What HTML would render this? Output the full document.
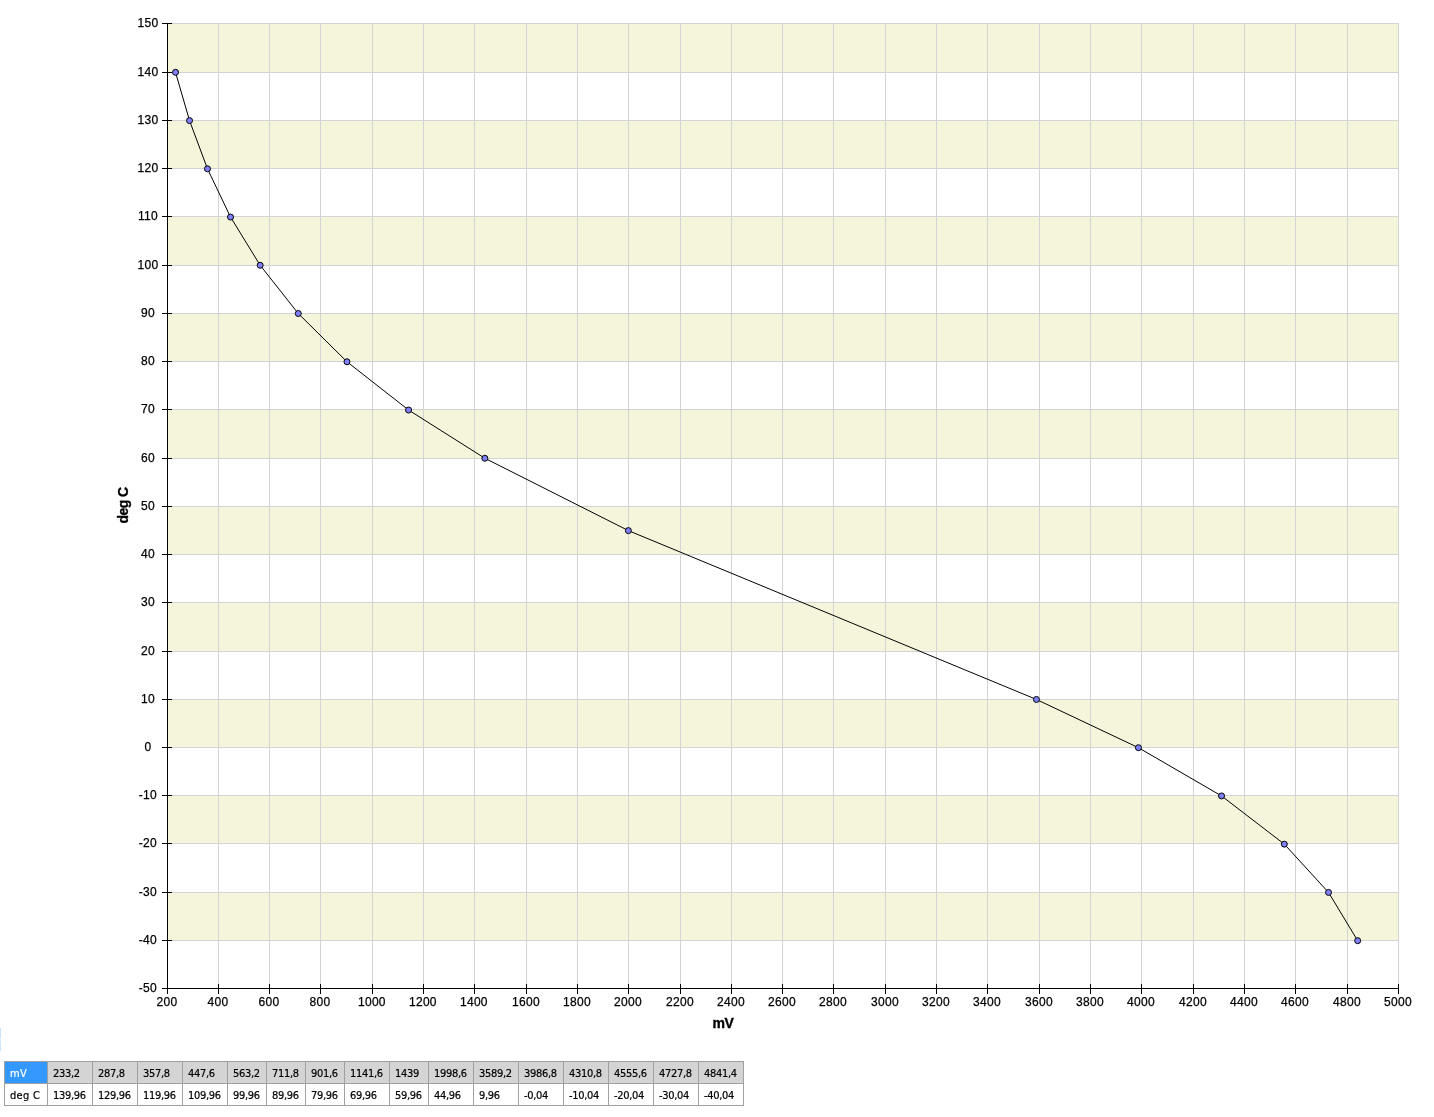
<!DOCTYPE html>
<html lang="en"><head><meta charset="utf-8"><title>mV / deg C</title>
<style>
html,body{margin:0;padding:0;background:#fff;}
body{width:1434px;height:1117px;position:relative;overflow:hidden;font-family:"Liberation Sans","DejaVu Sans",sans-serif;}
#chart{position:absolute;left:0;top:0;}
#chart text{font-family:"Liberation Sans","DejaVu Sans",sans-serif;fill:#000;}
.tk{font-size:12px;letter-spacing:0.3px;stroke:#000;stroke-width:0.25px;}
.ttl{font-size:14px;font-weight:bold;letter-spacing:-0.6px;stroke:#000;stroke-width:0.35px;}
#strip{position:absolute;left:0;top:1028px;width:1px;height:23px;background:linear-gradient(#cce4ff 0,#cce4ff 42%,#f4f0ff 50%,#cceaff 60%,#cce4ff 100%);}
#grid{position:absolute;left:4px;top:1061px;border-collapse:collapse;table-layout:fixed;font-family:"DejaVu Sans Condensed","DejaVu Sans","Liberation Sans",sans-serif;font-size:11px;letter-spacing:-0.3px;color:#000;-webkit-text-stroke:0.2px currentColor;}
#grid td{border:1px solid #a0a0a0;height:21px;padding:2px 0 0 5px;box-sizing:border-box;white-space:nowrap;overflow:hidden;line-height:19px;vertical-align:middle;}
#grid tr.h td{background:#d4d4d4;}
#grid td.l{letter-spacing:0.3px;}
#grid tr.h td.sel{background:#3399ff;color:#fff;}
</style></head><body>
<svg id="chart" width="1434" height="1117" viewBox="0 0 1434 1117">
<g shape-rendering="crispEdges">
<rect x="168" y="892" width="1231" height="48" fill="#f5f5dc"/>
<rect x="168" y="795" width="1231" height="48" fill="#f5f5dc"/>
<rect x="168" y="699" width="1231" height="48" fill="#f5f5dc"/>
<rect x="168" y="602" width="1231" height="49" fill="#f5f5dc"/>
<rect x="168" y="506" width="1231" height="48" fill="#f5f5dc"/>
<rect x="168" y="409" width="1231" height="49" fill="#f5f5dc"/>
<rect x="168" y="313" width="1231" height="48" fill="#f5f5dc"/>
<rect x="168" y="216" width="1231" height="49" fill="#f5f5dc"/>
<rect x="168" y="120" width="1231" height="48" fill="#f5f5dc"/>
<rect x="168" y="23" width="1231" height="49" fill="#f5f5dc"/>
<rect x="218" y="23" width="1" height="965" fill="#d3d3d3"/>
<rect x="269" y="23" width="1" height="965" fill="#d3d3d3"/>
<rect x="320" y="23" width="1" height="965" fill="#d3d3d3"/>
<rect x="372" y="23" width="1" height="965" fill="#d3d3d3"/>
<rect x="423" y="23" width="1" height="965" fill="#d3d3d3"/>
<rect x="474" y="23" width="1" height="965" fill="#d3d3d3"/>
<rect x="526" y="23" width="1" height="965" fill="#d3d3d3"/>
<rect x="577" y="23" width="1" height="965" fill="#d3d3d3"/>
<rect x="628" y="23" width="1" height="965" fill="#d3d3d3"/>
<rect x="680" y="23" width="1" height="965" fill="#d3d3d3"/>
<rect x="731" y="23" width="1" height="965" fill="#d3d3d3"/>
<rect x="782" y="23" width="1" height="965" fill="#d3d3d3"/>
<rect x="833" y="23" width="1" height="965" fill="#d3d3d3"/>
<rect x="885" y="23" width="1" height="965" fill="#d3d3d3"/>
<rect x="936" y="23" width="1" height="965" fill="#d3d3d3"/>
<rect x="987" y="23" width="1" height="965" fill="#d3d3d3"/>
<rect x="1039" y="23" width="1" height="965" fill="#d3d3d3"/>
<rect x="1090" y="23" width="1" height="965" fill="#d3d3d3"/>
<rect x="1141" y="23" width="1" height="965" fill="#d3d3d3"/>
<rect x="1193" y="23" width="1" height="965" fill="#d3d3d3"/>
<rect x="1244" y="23" width="1" height="965" fill="#d3d3d3"/>
<rect x="1295" y="23" width="1" height="965" fill="#d3d3d3"/>
<rect x="1347" y="23" width="1" height="965" fill="#d3d3d3"/>
<rect x="1398" y="23" width="1" height="965" fill="#d3d3d3"/>
<rect x="168" y="940" width="1231" height="1" fill="#d3d3d3"/>
<rect x="168" y="892" width="1231" height="1" fill="#d3d3d3"/>
<rect x="168" y="843" width="1231" height="1" fill="#d3d3d3"/>
<rect x="168" y="795" width="1231" height="1" fill="#d3d3d3"/>
<rect x="168" y="747" width="1231" height="1" fill="#d3d3d3"/>
<rect x="168" y="699" width="1231" height="1" fill="#d3d3d3"/>
<rect x="168" y="651" width="1231" height="1" fill="#d3d3d3"/>
<rect x="168" y="602" width="1231" height="1" fill="#d3d3d3"/>
<rect x="168" y="554" width="1231" height="1" fill="#d3d3d3"/>
<rect x="168" y="506" width="1231" height="1" fill="#d3d3d3"/>
<rect x="168" y="458" width="1231" height="1" fill="#d3d3d3"/>
<rect x="168" y="409" width="1231" height="1" fill="#d3d3d3"/>
<rect x="168" y="361" width="1231" height="1" fill="#d3d3d3"/>
<rect x="168" y="313" width="1231" height="1" fill="#d3d3d3"/>
<rect x="168" y="265" width="1231" height="1" fill="#d3d3d3"/>
<rect x="168" y="216" width="1231" height="1" fill="#d3d3d3"/>
<rect x="168" y="168" width="1231" height="1" fill="#d3d3d3"/>
<rect x="168" y="120" width="1231" height="1" fill="#d3d3d3"/>
<rect x="168" y="72" width="1231" height="1" fill="#d3d3d3"/>
<rect x="168" y="23" width="1231" height="1" fill="#d3d3d3"/>
<rect x="167" y="23" width="1" height="966" fill="#000"/>
<rect x="167" y="988" width="1232" height="1" fill="#000"/>
<rect x="167" y="984" width="1" height="10" fill="#000"/>
<rect x="218" y="984" width="1" height="10" fill="#000"/>
<rect x="269" y="984" width="1" height="10" fill="#000"/>
<rect x="320" y="984" width="1" height="10" fill="#000"/>
<rect x="372" y="984" width="1" height="10" fill="#000"/>
<rect x="423" y="984" width="1" height="10" fill="#000"/>
<rect x="474" y="984" width="1" height="10" fill="#000"/>
<rect x="526" y="984" width="1" height="10" fill="#000"/>
<rect x="577" y="984" width="1" height="10" fill="#000"/>
<rect x="628" y="984" width="1" height="10" fill="#000"/>
<rect x="680" y="984" width="1" height="10" fill="#000"/>
<rect x="731" y="984" width="1" height="10" fill="#000"/>
<rect x="782" y="984" width="1" height="10" fill="#000"/>
<rect x="833" y="984" width="1" height="10" fill="#000"/>
<rect x="885" y="984" width="1" height="10" fill="#000"/>
<rect x="936" y="984" width="1" height="10" fill="#000"/>
<rect x="987" y="984" width="1" height="10" fill="#000"/>
<rect x="1039" y="984" width="1" height="10" fill="#000"/>
<rect x="1090" y="984" width="1" height="10" fill="#000"/>
<rect x="1141" y="984" width="1" height="10" fill="#000"/>
<rect x="1193" y="984" width="1" height="10" fill="#000"/>
<rect x="1244" y="984" width="1" height="10" fill="#000"/>
<rect x="1295" y="984" width="1" height="10" fill="#000"/>
<rect x="1347" y="984" width="1" height="10" fill="#000"/>
<rect x="1398" y="984" width="1" height="10" fill="#000"/>
<rect x="162" y="988" width="10" height="1" fill="#000"/>
<rect x="162" y="940" width="10" height="1" fill="#000"/>
<rect x="162" y="892" width="10" height="1" fill="#000"/>
<rect x="162" y="843" width="10" height="1" fill="#000"/>
<rect x="162" y="795" width="10" height="1" fill="#000"/>
<rect x="162" y="747" width="10" height="1" fill="#000"/>
<rect x="162" y="699" width="10" height="1" fill="#000"/>
<rect x="162" y="651" width="10" height="1" fill="#000"/>
<rect x="162" y="602" width="10" height="1" fill="#000"/>
<rect x="162" y="554" width="10" height="1" fill="#000"/>
<rect x="162" y="506" width="10" height="1" fill="#000"/>
<rect x="162" y="458" width="10" height="1" fill="#000"/>
<rect x="162" y="409" width="10" height="1" fill="#000"/>
<rect x="162" y="361" width="10" height="1" fill="#000"/>
<rect x="162" y="313" width="10" height="1" fill="#000"/>
<rect x="162" y="265" width="10" height="1" fill="#000"/>
<rect x="162" y="216" width="10" height="1" fill="#000"/>
<rect x="162" y="168" width="10" height="1" fill="#000"/>
<rect x="162" y="120" width="10" height="1" fill="#000"/>
<rect x="162" y="72" width="10" height="1" fill="#000"/>
<rect x="162" y="23" width="10" height="1" fill="#000"/>
</g>
<text class="tk" x="147.9" y="992.0" text-anchor="middle">-50</text>
<text class="tk" x="147.9" y="944.0" text-anchor="middle">-40</text>
<text class="tk" x="147.9" y="896.0" text-anchor="middle">-30</text>
<text class="tk" x="147.9" y="847.0" text-anchor="middle">-20</text>
<text class="tk" x="147.9" y="799.0" text-anchor="middle">-10</text>
<text class="tk" x="147.9" y="751.0" text-anchor="middle">0</text>
<text class="tk" x="147.9" y="703.0" text-anchor="middle">10</text>
<text class="tk" x="147.9" y="655.0" text-anchor="middle">20</text>
<text class="tk" x="147.9" y="606.0" text-anchor="middle">30</text>
<text class="tk" x="147.9" y="558.0" text-anchor="middle">40</text>
<text class="tk" x="147.9" y="510.0" text-anchor="middle">50</text>
<text class="tk" x="147.9" y="462.0" text-anchor="middle">60</text>
<text class="tk" x="147.9" y="413.0" text-anchor="middle">70</text>
<text class="tk" x="147.9" y="365.0" text-anchor="middle">80</text>
<text class="tk" x="147.9" y="317.0" text-anchor="middle">90</text>
<text class="tk" x="147.9" y="269.0" text-anchor="middle">100</text>
<text class="tk" x="147.9" y="220.0" text-anchor="middle">110</text>
<text class="tk" x="147.9" y="172.0" text-anchor="middle">120</text>
<text class="tk" x="147.9" y="124.0" text-anchor="middle">130</text>
<text class="tk" x="147.9" y="76.0" text-anchor="middle">140</text>
<text class="tk" x="147.9" y="27.0" text-anchor="middle">150</text>
<text class="tk" x="166.9" y="1006" text-anchor="middle">200</text>
<text class="tk" x="217.9" y="1006" text-anchor="middle">400</text>
<text class="tk" x="268.9" y="1006" text-anchor="middle">600</text>
<text class="tk" x="319.9" y="1006" text-anchor="middle">800</text>
<text class="tk" x="371.9" y="1006" text-anchor="middle">1000</text>
<text class="tk" x="422.9" y="1006" text-anchor="middle">1200</text>
<text class="tk" x="473.9" y="1006" text-anchor="middle">1400</text>
<text class="tk" x="526.0" y="1006" text-anchor="middle">1600</text>
<text class="tk" x="577.0" y="1006" text-anchor="middle">1800</text>
<text class="tk" x="628.0" y="1006" text-anchor="middle">2000</text>
<text class="tk" x="680.0" y="1006" text-anchor="middle">2200</text>
<text class="tk" x="731.0" y="1006" text-anchor="middle">2400</text>
<text class="tk" x="782.0" y="1006" text-anchor="middle">2600</text>
<text class="tk" x="833.0" y="1006" text-anchor="middle">2800</text>
<text class="tk" x="885.0" y="1006" text-anchor="middle">3000</text>
<text class="tk" x="936.0" y="1006" text-anchor="middle">3200</text>
<text class="tk" x="987.0" y="1006" text-anchor="middle">3400</text>
<text class="tk" x="1039.0" y="1006" text-anchor="middle">3600</text>
<text class="tk" x="1090.0" y="1006" text-anchor="middle">3800</text>
<text class="tk" x="1141.0" y="1006" text-anchor="middle">4000</text>
<text class="tk" x="1193.0" y="1006" text-anchor="middle">4200</text>
<text class="tk" x="1244.0" y="1006" text-anchor="middle">4400</text>
<text class="tk" x="1295.0" y="1006" text-anchor="middle">4600</text>
<text class="tk" x="1347.0" y="1006" text-anchor="middle">4800</text>
<text class="tk" x="1398.0" y="1006" text-anchor="middle">5000</text>
<text class="ttl" x="722.9" y="1028" text-anchor="middle">mV</text>
<text class="ttl" transform="translate(128.2,505.5) rotate(-90)" text-anchor="middle">deg C</text>
<polyline points="175.52,72.33 189.52,120.57 207.48,168.81 230.52,217.05 260.17,265.29 298.29,313.53 346.98,361.77 408.55,410.01 484.84,458.25 628.39,530.61 1036.43,699.45 1138.43,747.69 1221.54,795.93 1284.34,844.17 1328.52,892.41 1357.66,940.65" fill="none" stroke="#000" stroke-width="1"/>
<circle cx="175.52" cy="72.33" r="3" fill="#8080ff" stroke="#000" stroke-width="1"/>
<circle cx="189.52" cy="120.57" r="3" fill="#8080ff" stroke="#000" stroke-width="1"/>
<circle cx="207.48" cy="168.81" r="3" fill="#8080ff" stroke="#000" stroke-width="1"/>
<circle cx="230.52" cy="217.05" r="3" fill="#8080ff" stroke="#000" stroke-width="1"/>
<circle cx="260.17" cy="265.29" r="3" fill="#8080ff" stroke="#000" stroke-width="1"/>
<circle cx="298.29" cy="313.53" r="3" fill="#8080ff" stroke="#000" stroke-width="1"/>
<circle cx="346.98" cy="361.77" r="3" fill="#8080ff" stroke="#000" stroke-width="1"/>
<circle cx="408.55" cy="410.01" r="3" fill="#8080ff" stroke="#000" stroke-width="1"/>
<circle cx="484.84" cy="458.25" r="3" fill="#8080ff" stroke="#000" stroke-width="1"/>
<circle cx="628.39" cy="530.61" r="3" fill="#8080ff" stroke="#000" stroke-width="1"/>
<circle cx="1036.43" cy="699.45" r="3" fill="#8080ff" stroke="#000" stroke-width="1"/>
<circle cx="1138.43" cy="747.69" r="3" fill="#8080ff" stroke="#000" stroke-width="1"/>
<circle cx="1221.54" cy="795.93" r="3" fill="#8080ff" stroke="#000" stroke-width="1"/>
<circle cx="1284.34" cy="844.17" r="3" fill="#8080ff" stroke="#000" stroke-width="1"/>
<circle cx="1328.52" cy="892.41" r="3" fill="#8080ff" stroke="#000" stroke-width="1"/>
<circle cx="1357.66" cy="940.65" r="3" fill="#8080ff" stroke="#000" stroke-width="1"/>
</svg>
<div id="strip"></div>
<table id="grid"><colgroup><col style="width:43px"><col style="width:45px"><col style="width:45px"><col style="width:45px"><col style="width:45px"><col style="width:39px"><col style="width:39px"><col style="width:39px"><col style="width:45px"><col style="width:39px"><col style="width:45px"><col style="width:45px"><col style="width:45px"><col style="width:45px"><col style="width:45px"><col style="width:45px"><col style="width:45px"></colgroup>
<tr class="h"><td class="sel l">mV</td><td>233,2</td><td>287,8</td><td>357,8</td><td>447,6</td><td>563,2</td><td>711,8</td><td>901,6</td><td>1141,6</td><td>1439</td><td>1998,6</td><td>3589,2</td><td>3986,8</td><td>4310,8</td><td>4555,6</td><td>4727,8</td><td>4841,4</td></tr>
<tr><td class="l">deg C</td><td>139,96</td><td>129,96</td><td>119,96</td><td>109,96</td><td>99,96</td><td>89,96</td><td>79,96</td><td>69,96</td><td>59,96</td><td>44,96</td><td>9,96</td><td>-0,04</td><td>-10,04</td><td>-20,04</td><td>-30,04</td><td>-40,04</td></tr>
</table>
</body></html>
